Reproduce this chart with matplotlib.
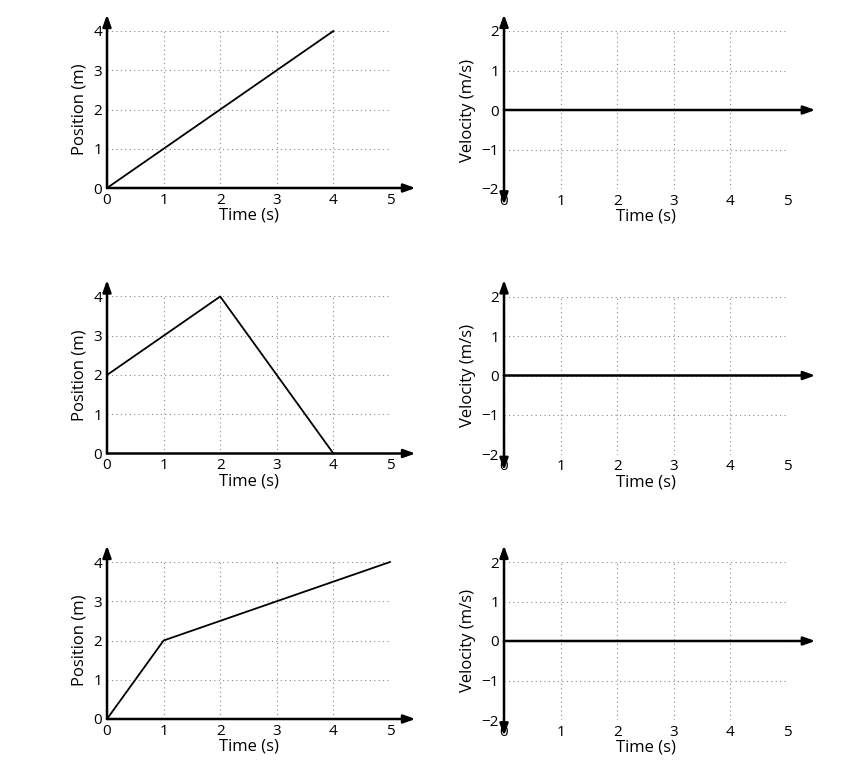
import matplotlib
matplotlib.use("Agg")
import matplotlib.pyplot as plt

plt.rcParams['font.family'] = ['Open Sans', 'DejaVu Sans']

# position-time data for each row
pos_t = [[0, 4], [0, 2, 4], [0, 1, 5]]
pos_x = [[0, 4], [2, 4, 0], [0, 2, 4]]
time_ticks = [0, 1, 2, 3, 4, 5]
pos_ticks = [0, 1, 2, 3, 4]
vel_ticks = [-2, -1, 0, 1, 2]

W, H = 848, 784
fig = plt.figure(figsize=(W / 100, H / 100), dpi=100)

def arrow(ax, x0, y0, x1, y1):
    ax.annotate("", xy=(x1, y1), xytext=(x0, y0), annotation_clip=False,
                arrowprops=dict(arrowstyle="-|>,head_length=0.7,head_width=0.25",
                                color="black", lw=1.8, shrinkA=0, shrinkB=0))

def style(ax):
    for s in ax.spines.values():
        s.set_visible(False)
    ax.tick_params(length=0, labelsize=11)
    ax.grid(True, linestyle=(0, (1, 3)), color="#888888", lw=0.8)
    ax.set_xticks(time_ticks)
    ax.set_xlabel("Time (s)", fontsize=12, labelpad=0)

for i in range(3):
    dy = 265.5 * i
    # position plot
    ax = fig.add_axes([107 / W, (H - 188 - dy) / H, 283 / W, 157 / H])
    style(ax)
    ax.set_xlim(0, 5)
    ax.set_ylim(0, 4)
    ax.set_yticks(pos_ticks)
    ax.set_ylabel("Position (m)", fontsize=12)
    ax.plot(pos_t[i], pos_x[i], color="black", lw=1.3, clip_on=False)
    arrow(ax, 0, 0, 5.45, 0)
    arrow(ax, 0, 0, 0, 4.42)

    # velocity plot (blank)
    ax2 = fig.add_axes([504 / W, (H - 189 - dy) / H, 283 / W, 158 / H])
    style(ax2)
    ax2.set_xlim(0, 5)
    ax2.set_ylim(-2, 2)
    ax2.set_yticks(vel_ticks)
    ax2.set_ylabel("Velocity (m/s)", fontsize=12)
    arrow(ax2, 0, 0, 5.5, 0)
    arrow(ax2, 0, 0, 0, 2.42)
    arrow(ax2, 0, 0, 0, -2.4)

fig.savefig("out.png", dpi=100)
